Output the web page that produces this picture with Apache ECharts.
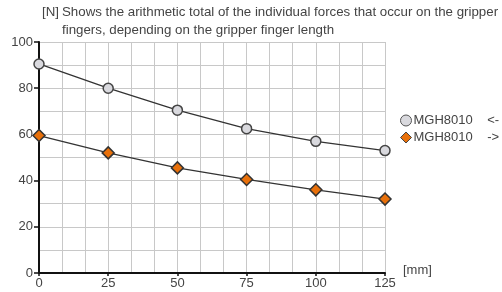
<!DOCTYPE html>
<html><head><meta charset="utf-8">
<script src="https://cdn.jsdelivr.net/npm/echarts@6/dist/echarts.min.js"></script>
<style>html,body{margin:0;padding:0;background:#fff}#c{width:502px;height:292px}</style>
</head><body><div id="c"></div>
<script>
const xValues = [0, 25, 50, 75, 100, 125];
const seriesA = [90.5, 80, 70.5, 62.5, 57, 53];
const seriesB = [59.5, 52, 45.5, 40.5, 36, 32];
const nameA = 'MGH8010    <-';
const nameB = 'MGH8010    ->';
const titleUnit = '[N]';
const titleLine1 = 'Shows the arithmetic total of the individual forces that occur on the gripper';
const titleLine2 = 'fingers, depending on the gripper finger length';
const xUnit = '[mm]';

const font = 'Liberation Sans, Arial, sans-serif';
const chart = echarts.init(document.getElementById('c'), null, {renderer: 'canvas'});
chart.setOption({
  animation: false,
  textStyle: {fontFamily: font},
  grid: {left: 39, right: 117, top: 42, bottom: 19, containLabel: false},
  xAxis: {
    type: 'value', min: 0, max: 125, interval: 25,
    axisLine: {show: true, lineStyle: {color: '#111', width: 2}},
    axisTick: {show: true, length: 3, lineStyle: {color: '#111', width: 1.5}},
    axisLabel: {color: '#444', fontSize: 13, margin: 4, fontFamily: font},
    splitLine: {show: true, lineStyle: {color: '#c8c8c8', width: 1}},
    minorTick: {show: false, splitNumber: 3},
    minorSplitLine: {show: true, lineStyle: {color: '#c8c8c8', width: 1}}
  },
  yAxis: {
    type: 'value', min: 0, max: 100, interval: 20,
    axisLine: {show: true, lineStyle: {color: '#111', width: 2}},
    axisTick: {show: true, length: 5, lineStyle: {color: '#111', width: 1.5}},
    axisLabel: {color: '#444', fontSize: 13, margin: 6, fontFamily: font},
    splitLine: {show: true, lineStyle: {color: '#c8c8c8', width: 1}},
    minorTick: {show: false, splitNumber: 2},
    minorSplitLine: {show: true, lineStyle: {color: '#c8c8c8', width: 1}}
  },
  legend: {
    orient: 'vertical', left: 400, top: 114, itemGap: 4,
    itemWidth: 11, itemHeight: 11, padding: 0,
    textStyle: {color: '#444', fontSize: 13, fontFamily: font, padding: [0,0,0,-3]},
    data: [
      {name: nameA, icon: 'circle', itemStyle: {color: '#d9d9de', borderColor: '#555', borderWidth: 1}},
      {name: nameB, icon: 'diamond', itemStyle: {color: '#e8700a', borderColor: '#444', borderWidth: 1}}
    ]
  },
  series: [
    {
      name: nameA, type: 'line',
      data: xValues.map((x, i) => [x, seriesA[i]]),
      symbol: 'circle', symbolSize: 10,
      lineStyle: {color: '#333', width: 1.3},
      itemStyle: {color: '#d9d9de', borderColor: '#444', borderWidth: 1.5},
      z: 3
    },
    {
      name: nameB, type: 'line',
      data: xValues.map((x, i) => [x, seriesB[i]]),
      symbol: 'diamond', symbolSize: 12,
      lineStyle: {color: '#333', width: 1.3},
      itemStyle: {color: '#e8700a', borderColor: '#333', borderWidth: 1.5},
      z: 3
    }
  ],
  graphic: [
    {type: 'text', left: 42, top: 6, style: {text: titleUnit, fill: '#444', font: '13.3px ' + font}},
    {type: 'text', left: 62, top: 6, style: {text: titleLine1, fill: '#444', font: '13.3px ' + font}},
    {type: 'text', left: 62, top: 24, style: {text: titleLine2, fill: '#444', font: '13.3px ' + font}},
    {type: 'text', left: 403, top: 264, style: {text: xUnit, fill: '#444', font: '13px ' + font}}
  ]
});
</script></body></html>
